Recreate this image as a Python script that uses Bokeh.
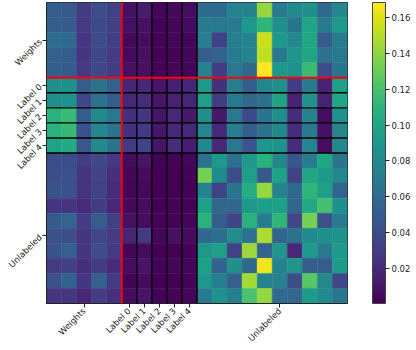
import numpy as np
from bokeh.plotting import figure
from bokeh.models import (ColumnDataSource, Range1d, LinearColorMapper, ColorBar,
                          FixedTicker, PrintfTickFormatter, Span)
from bokeh.palettes import Viridis256
from bokeh.embed import file_html
from bokeh.resources import INLINE

# block names / tick labels
tick_labels = ["Weights", "Label 0", "Label 1", "Label 2", "Label 3", "Label 4", "Unlabeled"]
tick_positions = [2.5, 5.5, 6.5, 7.5, 8.5, 9.5, 15.5]
n_weights = 5
n_labels = 5
n_unlabeled = 10
cbar_ticks = [0.02, 0.04, 0.06, 0.08, 0.10, 0.12, 0.14, 0.16]
v_low = 0.0004
v_high = 0.1684

# rows: weights part (5 cols), label part (5 cols), unlabeled part (10 cols)
w_part = [
    [0.050, 0.048, 0.030, 0.040, 0.033],
    [0.050, 0.047, 0.028, 0.038, 0.032],
    [0.060, 0.058, 0.027, 0.040, 0.032],
    [0.052, 0.050, 0.027, 0.037, 0.030],
    [0.051, 0.048, 0.028, 0.037, 0.030],
    [0.085, 0.085, 0.050, 0.063, 0.052],
    [0.084, 0.087, 0.036, 0.064, 0.050],
    [0.108, 0.115, 0.050, 0.080, 0.068],
    [0.108, 0.113, 0.042, 0.078, 0.066],
    [0.098, 0.103, 0.046, 0.080, 0.065],
    [0.040, 0.040, 0.030, 0.036, 0.028],
    [0.040, 0.042, 0.026, 0.034, 0.024],
    [0.044, 0.043, 0.026, 0.033, 0.022],
    [0.026, 0.026, 0.022, 0.030, 0.019],
    [0.048, 0.055, 0.030, 0.050, 0.032],
    [0.042, 0.040, 0.027, 0.036, 0.030],
    [0.044, 0.052, 0.027, 0.040, 0.030],
    [0.030, 0.032, 0.024, 0.030, 0.022],
    [0.042, 0.053, 0.027, 0.052, 0.030],
    [0.027, 0.027, 0.020, 0.030, 0.024],
]
l_part = [
    [0.008, 0.014, 0.003, 0.004, 0.006],
    [0.007, 0.008, 0.002, 0.003, 0.005],
    [0.004, 0.006, 0.002, 0.003, 0.003],
    [0.005, 0.007, 0.002, 0.002, 0.003],
    [0.007, 0.008, 0.002, 0.003, 0.003],
    [0.018, 0.019, 0.010, 0.015, 0.018],
    [0.020, 0.022, 0.010, 0.016, 0.018],
    [0.023, 0.026, 0.010, 0.020, 0.012],
    [0.024, 0.029, 0.010, 0.019, 0.020],
    [0.029, 0.035, 0.010, 0.022, 0.014],
    [0.005, 0.010, 0.002, 0.002, 0.003],
    [0.003, 0.005, 0.001, 0.001, 0.002],
    [0.003, 0.004, 0.001, 0.001, 0.002],
    [0.004, 0.006, 0.001, 0.002, 0.002],
    [0.007, 0.006, 0.002, 0.002, 0.003],
    [0.018, 0.028, 0.003, 0.008, 0.005],
    [0.003, 0.005, 0.001, 0.001, 0.002],
    [0.006, 0.010, 0.002, 0.003, 0.003],
    [0.002, 0.005, 0.001, 0.001, 0.002],
    [0.005, 0.010, 0.002, 0.002, 0.003],
]
u_part = [
    [0.060, 0.058, 0.075, 0.075, 0.142, 0.070, 0.080, 0.085, 0.058, 0.078],
    [0.070, 0.068, 0.070, 0.090, 0.110, 0.085, 0.066, 0.100, 0.070, 0.090],
    [0.072, 0.032, 0.072, 0.076, 0.155, 0.090, 0.078, 0.100, 0.050, 0.070],
    [0.050, 0.053, 0.070, 0.076, 0.152, 0.068, 0.088, 0.100, 0.063, 0.068],
    [0.075, 0.030, 0.067, 0.056, 0.168, 0.090, 0.086, 0.115, 0.040, 0.066],
    [0.090, 0.023, 0.072, 0.051, 0.077, 0.085, 0.030, 0.070, 0.016, 0.095],
    [0.095, 0.030, 0.068, 0.056, 0.064, 0.097, 0.016, 0.086, 0.016, 0.100],
    [0.085, 0.012, 0.068, 0.038, 0.066, 0.084, 0.022, 0.076, 0.006, 0.086],
    [0.077, 0.019, 0.072, 0.051, 0.064, 0.080, 0.022, 0.070, 0.008, 0.078],
    [0.078, 0.020, 0.067, 0.045, 0.088, 0.086, 0.022, 0.078, 0.006, 0.078],
    [0.063, 0.090, 0.062, 0.090, 0.108, 0.078, 0.045, 0.070, 0.100, 0.065],
    [0.133, 0.080, 0.040, 0.095, 0.048, 0.098, 0.033, 0.100, 0.092, 0.078],
    [0.075, 0.033, 0.066, 0.105, 0.142, 0.076, 0.058, 0.110, 0.095, 0.055],
    [0.095, 0.056, 0.056, 0.090, 0.095, 0.095, 0.056, 0.102, 0.118, 0.085],
    [0.108, 0.050, 0.035, 0.108, 0.070, 0.110, 0.036, 0.133, 0.042, 0.070],
    [0.056, 0.062, 0.084, 0.063, 0.148, 0.055, 0.064, 0.080, 0.084, 0.086],
    [0.090, 0.095, 0.033, 0.143, 0.053, 0.088, 0.020, 0.090, 0.070, 0.092],
    [0.095, 0.053, 0.085, 0.057, 0.165, 0.075, 0.088, 0.050, 0.050, 0.092],
    [0.090, 0.073, 0.052, 0.145, 0.076, 0.075, 0.040, 0.125, 0.080, 0.036],
    [0.070, 0.085, 0.072, 0.120, 0.142, 0.058, 0.056, 0.092, 0.080, 0.066],
]

matrix = np.hstack([np.array(w_part), np.array(l_part), np.array(u_part)])
n = matrix.shape[0]
rows, cols = np.meshgrid(np.arange(n), np.arange(n), indexing="ij")
src = ColumnDataSource(dict(x=cols.ravel() + 0.5, y=rows.ravel() + 0.5, v=matrix.ravel()))

mapper = LinearColorMapper(palette=Viridis256, low=v_low, high=v_high)

p = figure(frame_width=301, frame_height=301,
           x_range=Range1d(0, n), y_range=Range1d(n, 0),
           output_backend="svg", toolbar_location=None,
           min_border_top=2, min_border_left=0, min_border_right=0, min_border_bottom=0)
p.rect(x="x", y="y", width=1, height=1, source=src,
       fill_color={"field": "v", "transform": mapper},
       line_color={"field": "v", "transform": mapper}, line_width=0.5)

p.grid.visible = False
p.background_fill_color = None
p.outline_line_color = "#222222"
p.outline_line_width = 1

# black separators between label rows/cols
for k in range(1, n_labels + 1):
    pos = n_weights + k
    p.add_layout(Span(location=pos, dimension="width", line_color="black", line_width=1.4))
    p.add_layout(Span(location=pos, dimension="height", line_color="black", line_width=1.4))
# red separators after weights block
p.add_layout(Span(location=n_weights, dimension="width", line_color="#ff0000", line_width=2))
p.add_layout(Span(location=n_weights, dimension="height", line_color="#ff0000", line_width=2))

ticks_dict = {pos: lab for pos, lab in zip(tick_positions, tick_labels)}
for ax in (p.xaxis[0], p.yaxis[0]):
    ax.ticker = FixedTicker(ticks=tick_positions)
    ax.major_label_overrides = ticks_dict
    ax.major_label_orientation = np.pi / 4
    ax.major_label_text_font = "DejaVu Sans"
    ax.major_label_text_font_size = "8.5px"
    ax.major_label_text_color = "#222222"
    ax.major_tick_in = 0
    ax.major_tick_out = 4
    ax.minor_tick_line_color = None
    ax.axis_line_color = "#222222"
    ax.major_tick_line_color = "#222222"
    ax.major_label_standoff = 2

cbar = ColorBar(color_mapper=mapper, ticker=FixedTicker(ticks=cbar_ticks),
                formatter=PrintfTickFormatter(format="%.2f"),
                width=13, height=301, padding=0, margin=0, location=(25, 0),
                major_tick_in=0, major_tick_out=4, major_tick_line_color="#222222",
                minor_tick_line_color=None, bar_line_color="#444444",
                major_label_text_font="DejaVu Sans", major_label_text_font_size="8.5px",
                major_label_text_color="#222222", label_standoff=2,
                background_fill_color=None)
p.add_layout(cbar, "right")

open("out.html", "w").write(file_html(p, INLINE))
